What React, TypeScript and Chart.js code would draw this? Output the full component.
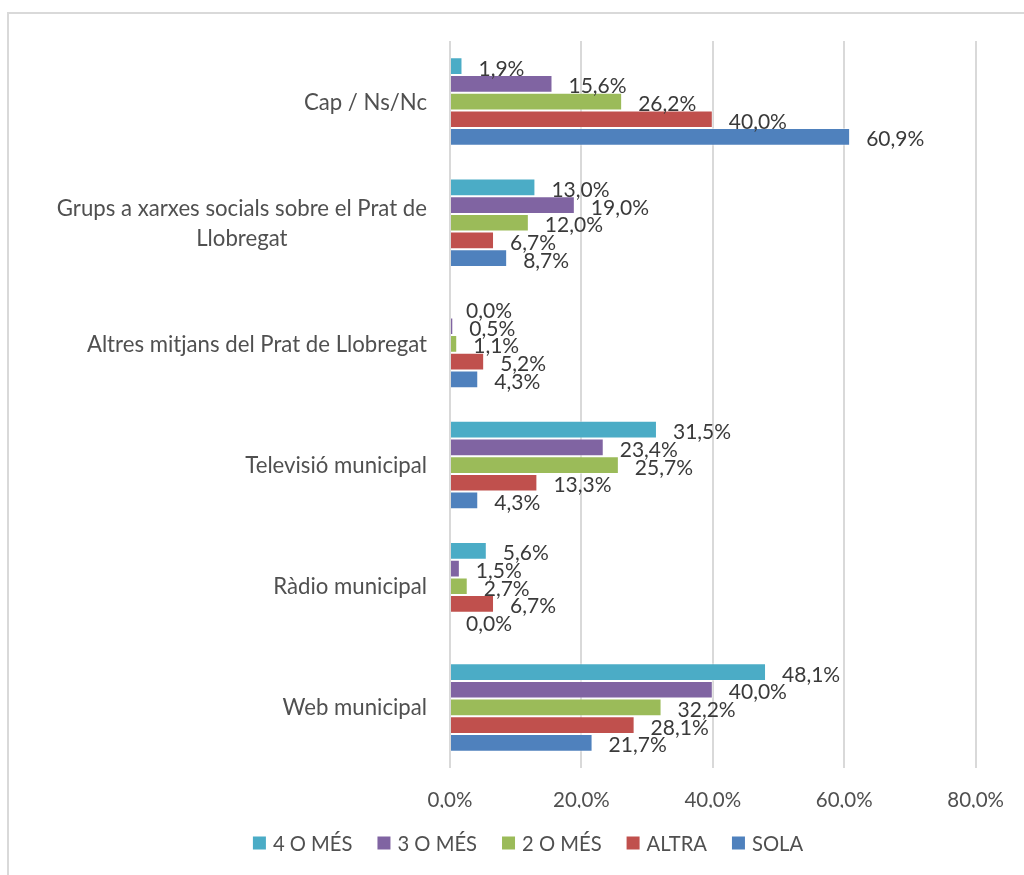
import React, { useEffect, useRef } from 'react';
import { Chart, registerables } from 'chart.js';

Chart.register(...registerables);

const categories: (string | string[])[] = [
  'Cap / Ns/Nc',
  ['Grups a xarxes socials sobre el Prat de', 'Llobregat'],
  'Altres mitjans del Prat de Llobregat',
  'Televisió municipal',
  'Ràdio municipal',
  'Web municipal',
];

const seriesNames = ['4 O MÉS', '3 O MÉS', '2 O MÉS', 'ALTRA', 'SOLA'];
const seriesColors = ['#4BACC6', '#8064A2', '#9BBB59', '#C0504D', '#4F81BD'];

const fourOrMore = [1.9, 13.0, 0.0, 31.5, 5.6, 48.1];
const threeOrMore = [15.6, 19.0, 0.5, 23.4, 1.5, 40.0];
const twoOrMore = [26.2, 12.0, 1.1, 25.7, 2.7, 32.2];
const altra = [40.0, 6.7, 5.2, 13.3, 6.7, 28.1];
const sola = [60.9, 8.7, 4.3, 4.3, 0.0, 21.7];

const seriesValues = [fourOrMore, threeOrMore, twoOrMore, altra, sola];

const xTicks = [0, 20, 40, 60, 80];

const FONT = 'Lato, "Open Sans", sans-serif';
const LABEL_SIZE = 21;
const CAT_SIZE = 22.2;
const TICK_SIZE = 20.5;
const LEGEND_SIZE = 20.2;

const fmt = (v: number) => v.toFixed(1).replace('.', ',') + '%';

const customPlugin = {
  id: 'customDecor',
  beforeDraw(chart: any) {
    const ctx = chart.ctx;
    ctx.save();
    ctx.fillStyle = '#ffffff';
    ctx.fillRect(0, 0, chart.width, chart.height);
    ctx.strokeStyle = '#d9d9d9';
    ctx.lineWidth = 2;
    ctx.strokeRect(8, 13, 3000, 3000);
    ctx.restore();
  },
  afterDatasetsDraw(chart: any) {
    const ctx = chart.ctx;
    ctx.save();
    ctx.font = `${LABEL_SIZE}px ${FONT}`;
    ctx.fillStyle = '#3a3a3a';
    ctx.textAlign = 'left';
    ctx.textBaseline = 'alphabetic';
    chart.data.datasets.forEach((ds: any, i: number) => {
      const meta = chart.getDatasetMeta(i);
      meta.data.forEach((bar: any, j: number) => {
        const v = ds.data[j];
        ctx.fillText(fmt(v), bar.x + 16, bar.y + 9.5);
      });
    });
    ctx.restore();
  },
  afterDraw(chart: any) {
    const ctx = chart.ctx;
    const yScale = chart.scales.y;
    const area = chart.chartArea;
    ctx.save();
    ctx.font = `${CAT_SIZE}px ${FONT}`;
    ctx.fillStyle = '#505050';
    ctx.textBaseline = 'alphabetic';
    ctx.textAlign = 'center';
    const rightEdge = area.left - 23;
    categories.forEach((lab, i) => {
      const lines = Array.isArray(lab) ? lab : [lab];
      const y = yScale.getPixelForValue(i);
      const maxW = Math.max(...lines.map((l) => ctx.measureText(l).width));
      const cx = rightEdge - maxW / 2;
      lines.forEach((l, k) => {
        const by = y + 8 + (k - (lines.length - 1) / 2) * 30;
        ctx.fillText(l, cx, by);
      });
    });

    // legend
    ctx.font = `${LEGEND_SIZE}px ${FONT}`;
    const widths = seriesNames.map((n) => ctx.measureText(n).width);
    const box = 13;
    const gapBoxText = 7;
    const gapItems = 25;
    const total = widths.reduce((a, w) => a + box + gapBoxText + w, 0) + gapItems * (seriesNames.length - 1);
    let x = 528 - total / 2;
    const ly = 843;
    ctx.textAlign = 'left';
    seriesNames.forEach((n, i) => {
      ctx.fillStyle = seriesColors[i];
      ctx.fillRect(x, ly - 6.5, box, box);
      ctx.fillStyle = '#505050';
      ctx.fillText(n, x + box + gapBoxText, ly + 7.5);
      x += box + gapBoxText + widths[i] + gapItems;
    });
    ctx.restore();
  },
};

export default function App() {
  const ref = useRef<HTMLCanvasElement | null>(null);

  useEffect(() => {
    if (!ref.current) return;
    const chart = new Chart(ref.current, {
      type: 'bar',
      data: {
        labels: categories.map((c) => (Array.isArray(c) ? c.join(' ') : c)),
        datasets: seriesNames.map((name, i) => ({
          label: name,
          data: seriesValues[i],
          backgroundColor: seriesColors[i],
          borderColor: 'rgba(255,255,255,0.45)',
          borderWidth: 1,
          barPercentage: 1,
          categoryPercentage: 0.73,
        })),
      },
      options: {
        indexAxis: 'y',
        responsive: false,
        animation: false,
        layout: { padding: { left: 450, right: 48, top: 41, bottom: 67 } },
        plugins: {
          legend: { display: false },
          tooltip: { enabled: false },
        },
        scales: {
          x: {
            min: 0,
            max: 80,
            afterBuildTicks: (scale: any) => {
              scale.ticks = xTicks.map((v) => ({ value: v }));
            },
            afterFit: (scale: any) => {
              scale.height = 40;
            },
            grid: { color: '#d9d9d9', lineWidth: 2, drawTicks: false },
            border: { display: false },
            ticks: {
              padding: 20,
              color: '#505050',
              font: { family: FONT, size: TICK_SIZE },
              callback: (v: any) => fmt(Number(v)),
              maxRotation: 0,
            },
          },
          y: {
            display: false,
          },
        },
      },
      plugins: [customPlugin],
    });
    return () => chart.destroy();
  }, []);

  return (
    <div style={{ position: 'absolute', left: 0, top: 0, width: 1024, height: 875 }}>
      <canvas ref={ref} width={1024} height={875} style={{ display: 'block' }} />
    </div>
  );
}
